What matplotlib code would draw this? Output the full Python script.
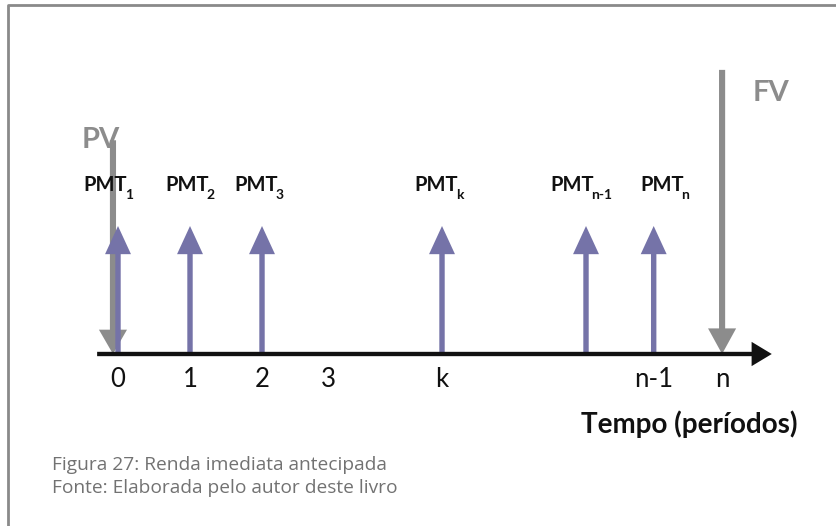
import matplotlib

matplotlib.use("Agg")

import matplotlib.pyplot as plt  # noqa: E402
from matplotlib.lines import Line2D  # noqa: E402

# timeline (schematic units: one period step = 1)
period_labels = ["0", "1", "2", "3", "k", "n-1", "n"]
period_pos = [0.0, 1.0, 2.0, 2.92, 4.5, 7.44, 8.39]

pmt_labels = ["1", "2", "3", "k", "n-1", "n"]
pmt_pos = [0.0, 1.0, 2.0, 4.5, 6.5, 7.44]
pmt_value = 1.0

pv_pos, pv_value = -0.07, 1.67
fv_pos, fv_value = 8.39, 2.22

caption = ["Figura 27: Renda imediata antecipada",
           "Fonte: Elaborada pelo autor deste livro"]

PURPLE = "#7573a8"
GRAY = "#8c8c8c"
INK = "#111111"

# horizontal nudge of each PMT label relative to its arrow (points)
LABEL_NUDGE = [-9, -2, -4, -4, -10, 6]

plt.rcParams["font.family"] = ["Lato", "DejaVu Sans"]

fig = plt.figure(figsize=(8.37, 5.26), dpi=100)
ax = fig.add_axes([0, 0, 1, 1])
ax.set_xlim(-1.639, 9.986)
ax.set_ylim(-1.344, 2.766)
ax.axis("off")

# frame (top and left edges only)
fig.add_artist(Line2D([0.0096, 0.0096, 1.0], [0.0, 0.990, 0.990],
                      transform=fig.transFigure, color="#8a8a8a", lw=2))

# PV arrow (down, behind PMT1)
ax.arrow(pv_pos, pv_value, 0, -pv_value, width=0.085, head_width=0.39,
         head_length=0.19, length_includes_head=True, color=GRAY, lw=0, zorder=2)
ax.text(pv_pos - 0.17, pv_value + 0.0, "PV", color=GRAY, fontsize=21,
        fontweight="bold", ha="center", va="center")

# FV arrow
ax.arrow(fv_pos, fv_value, 0, -fv_value, width=0.085, head_width=0.39,
         head_length=0.2, length_includes_head=True, color=GRAY, lw=0, zorder=2)
ax.text(fv_pos + 0.68, fv_value - 0.18, "FV", color=GRAY, fontsize=21,
        fontweight="bold", ha="center", va="center")

# PMT arrows with labels
for x, lab, dx in zip(pmt_pos, pmt_labels, LABEL_NUDGE):
    ax.arrow(x, 0, 0, pmt_value, width=0.075, head_width=0.36, head_length=0.22,
             length_includes_head=True, color=PURPLE, lw=0, zorder=3)
    t = ax.annotate("PMT", xy=(x, pmt_value + 0.32), xytext=(dx, 0),
                    textcoords="offset points", fontsize=14.5, fontweight="bold",
                    ha="center", va="center", color=INK)
    ax.annotate(lab, xy=(1, 0), xycoords=t, xytext=(-1.8, 0.3),
                textcoords="offset points", fontsize=10, fontweight="bold",
                ha="left", va="center", color=INK)

# time axis
ax.arrow(-0.29, 0, 9.37, 0, width=0.034, head_width=0.19, head_length=0.28,
         length_includes_head=True, color=INK, lw=0, zorder=4)

for x, lab in zip(period_pos, period_labels):
    ax.text(x, -0.2, lab, fontsize=18.5, ha="center", va="center", color=INK)

ax.text(7.93, -0.55, "Tempo (períodos)", fontsize=20, fontweight="bold",
        ha="center", va="center", color=INK)

for i, line in enumerate(caption):
    ax.text(-0.917, -0.867 - i * 0.18, line, fontsize=13.8, ha="left", va="center",
            color="#727272", family=["Open Sans", "DejaVu Sans"])

fig.savefig("out.png", dpi=100)
